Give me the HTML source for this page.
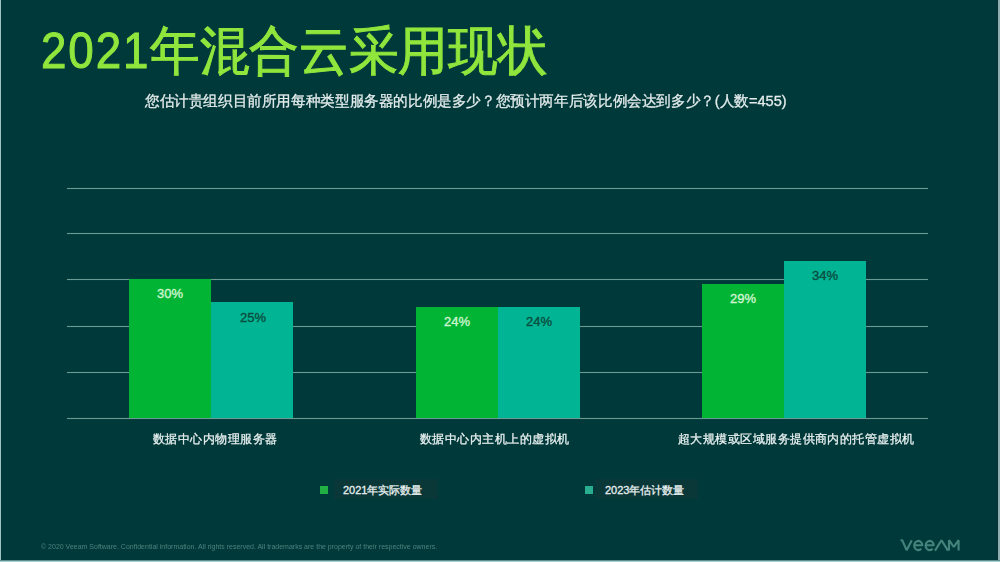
<!DOCTYPE html>
<html><head><meta charset="utf-8">
<style>
html,body{margin:0;padding:0;}
body{width:1000px;height:562px;overflow:hidden;background:#00393a;position:relative;font-family:"Liberation Sans",sans-serif;}
.abs{position:absolute;white-space:nowrap;}
.title{color:#90e63c;-webkit-text-stroke:1px #90e63c;}
.tdig{left:41px;top:18px;font-size:50px;line-height:66px;letter-spacing:2.1px;transform:scaleX(0.915);transform-origin:0 0;}
.tcjk{left:149.5px;top:18px;font-size:53px;line-height:66px;transform:scaleX(0.937);transform-origin:0 0;}
.sub{left:145px;top:90.5px;font-size:15px;color:#e4ecec;line-height:20px;transform:scaleX(0.974);transform-origin:0 0;-webkit-text-stroke:0.3px #e4ecec;}
.grid{position:absolute;left:67px;width:861px;height:1px;background:#6a9a94;box-shadow:0 0 1px rgba(100,150,145,0.6);}
.bar{position:absolute;width:82px;}
.g{background:#01b434;}
.t{background:#01b594;}
.val{position:absolute;width:82px;text-align:center;font-size:13px;line-height:16px;}
.vg{color:#d0f5d0;-webkit-text-stroke:0.35px #d0f5d0;}
.vt{color:#0a4c40;-webkit-text-stroke:0.35px #0a4c40;}
.cat{position:absolute;font-size:13px;color:#e8f0f0;line-height:18px;white-space:nowrap;transform:scale(0.958);transform-origin:0 0;-webkit-text-stroke:0.3px #e8f0f0;}
.leg{position:absolute;font-size:11px;color:#e8f0f0;line-height:16px;-webkit-text-stroke:0.3px #e8f0f0;}
.sq{position:absolute;width:8px;height:8px;}
.foot{left:41px;top:542px;font-size:7px;color:#4c837e;line-height:9px;filter:blur(0.3px);}
.bl{position:absolute;left:0;top:0;width:1px;height:562px;background:#9fc3c3;}
.br{position:absolute;left:998px;top:0;width:2px;height:562px;background:#8fb0b0;}
.bb{position:absolute;left:0;top:560px;width:1000px;height:2px;background:linear-gradient(#5f9090 0 50%,#a8d0d0 50% 100%);}
</style></head><body>
<div class="abs title tdig">2021</div><div class="abs title tcjk">年混合云采用现状</div>
<div class="abs sub">您估计贵组织目前所用每种类型服务器的比例是多少？您预计两年后该比例会达到多少？(人数=455)</div>

<div class="grid" style="top:188px"></div>
<div class="grid" style="top:233px"></div>
<div class="grid" style="top:279px"></div>
<div class="grid" style="top:326px"></div>
<div class="grid" style="top:372px"></div>
<div class="grid" style="top:418px"></div>

<div class="bar g" style="left:129px;top:279px;height:139px"></div>
<div class="bar t" style="left:211px;top:302px;height:116px"></div>
<div class="bar g" style="left:416px;top:307px;height:111px"></div>
<div class="bar t" style="left:498px;top:307px;height:111px"></div>
<div class="bar g" style="left:702px;top:284px;height:134px"></div>
<div class="bar t" style="left:784px;top:261px;height:157px"></div>

<div class="val vg" style="left:129px;top:286px">30%</div>
<div class="val vt" style="left:212px;top:310px">25%</div>
<div class="val vg" style="left:416px;top:314px">24%</div>
<div class="val vt" style="left:498px;top:314px">24%</div>
<div class="val vg" style="left:702px;top:291px">29%</div>
<div class="val vt" style="left:784px;top:268px">34%</div>

<div class="cat" style="left:153px;top:431px">数据中心内物理服务器</div>
<div class="cat" style="left:420px;top:431px">数据中心内主机上的虚拟机</div>
<div class="cat" style="left:678px;top:431px">超大规模或区域服务提供商内的托管虚拟机</div>

<div class="abs" style="left:334px;top:479px;width:104px;height:20px;background:#0a3838"></div>
<div class="abs" style="left:595px;top:479px;width:103px;height:20px;background:#0a3838"></div>
<div class="sq" style="left:320px;top:486px;background:#22b044"></div>
<div class="leg" style="left:343px;top:482px">2021年实际数量</div>
<div class="sq" style="left:585px;top:486px;background:#2aae90"></div>
<div class="leg" style="left:605px;top:482px">2023年估计数量</div>

<div class="abs foot">© 2020 Veeam Software. Confidential information. All rights reserved. All trademarks are the property of their respective owners.</div>

<svg class="abs" style="left:0;top:0" width="1000" height="562" viewBox="0 0 1000 562">
<defs><filter id="bl" x="-10%" y="-10%" width="120%" height="120%"><feGaussianBlur stdDeviation="0.45"/></filter></defs>
<g fill="none" stroke="#44847c" stroke-width="2.1" stroke-linejoin="bevel" filter="url(#bl)">
<path d="M900.5,540.2 L902.2,540.2 L906.6,550.2 L911.8,540.2"/>
<path d="M914.4,545.2 L922.4,545.2 A4.1,4.6 0 1 0 921.2,548.8"/>
<path d="M925.8,545.2 L933.8,545.2 A4.1,4.6 0 1 0 932.6,548.8"/>
<path d="M935,550.6 L941.5,540.2 L948,550.6"/>
<path d="M949,550.6 L949,540.2 L953.8,547 L958.6,540.2 L958.6,550.6"/>
</g></svg>
<div class="bl"></div><div class="abs" style="left:997px;top:0;width:1px;height:562px;background:#093232"></div><div class="br"></div><div class="bb"></div>
</body></html>
